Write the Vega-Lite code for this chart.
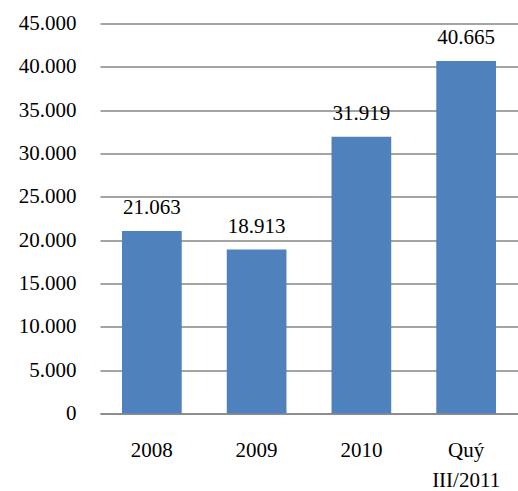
{
  "$schema": "https://vega.github.io/schema/vega-lite/v6.json",
  "autosize": {"type": "none"},
  "padding": {"left": 100, "top": 23.5, "right": 0, "bottom": 77.5},
  "width": 418,
  "height": 390,
  "background": "white",
  "config": {
    "locale": {"number": {"decimal": ",", "thousands": ".", "grouping": [3], "currency": ["", ""]}},
    "view": {"stroke": null},
    "font": "Liberation Serif"
  },
  "data": {
    "values": [
      {"period": "2008", "value": 21063},
      {"period": "2009", "value": 18913},
      {"period": "2010", "value": 31919},
      {"period": "Quý III/2011", "value": 40665}
    ]
  },
  "encoding": {
    "x": {
      "field": "period",
      "type": "nominal",
      "sort": null,
      "title": null,
      "scale": {"paddingInner": 0.43, "paddingOuter": 0.21},
      "axis": {
        "labelAngle": 0,
        "labelFont": "Liberation Serif",
        "labelFontSize": 21,
        "labelColor": "#000000",
        "labelPadding": 26,
        "labelLineHeight": 30,
        "labelExpr": "datum.value == 'Quý III/2011' ? ['Quý', 'III/2011'] : datum.label",
        "ticks": false,
        "domainColor": "#868686",
        "domainWidth": 1.5
      }
    },
    "y": {
      "field": "value",
      "type": "quantitative",
      "title": null,
      "scale": {"domain": [0, 45000], "nice": false},
      "axis": {
        "values": [0, 5000, 10000, 15000, 20000, 25000, 30000, 35000, 40000, 45000],
        "format": ",d",
        "labelFont": "Liberation Serif",
        "labelFontSize": 21,
        "labelColor": "#000000",
        "labelPadding": 24,
        "ticks": false,
        "domain": false,
        "gridColor": "#868686",
        "gridWidth": 1.3
      }
    }
  },
  "layer": [
    {"mark": {"type": "bar", "color": "#4F81BD"}},
    {
      "mark": {"type": "text", "baseline": "alphabetic", "dy": -17, "font": "Liberation Serif", "fontSize": 21, "color": "#000000"},
      "encoding": {"text": {"field": "value", "type": "quantitative", "format": ",d"}}
    }
  ]
}
